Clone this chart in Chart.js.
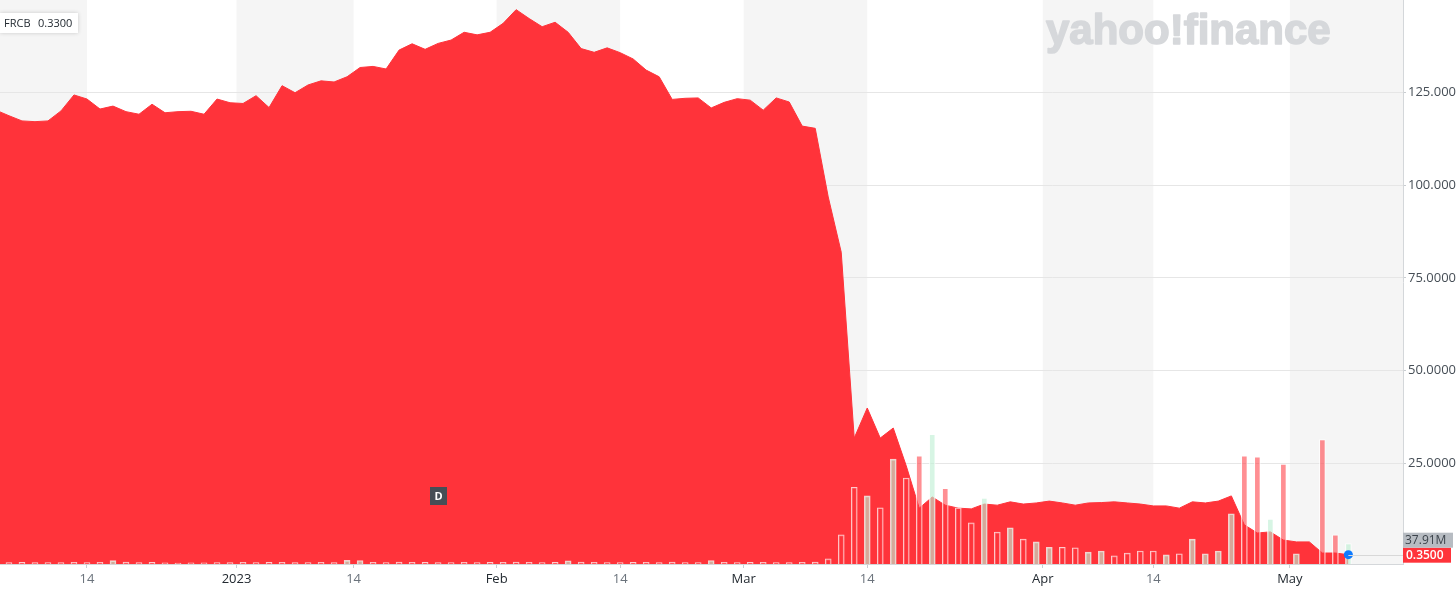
<!DOCTYPE html>
<html>
<head>
<meta charset="utf-8">
<script src="https://cdn.jsdelivr.net/npm/chart.js@4/dist/chart.umd.min.js"></script>
<style>
  html, body { margin: 0; padding: 0; background: #fff; }
  #wrap { width: 1456px; height: 590px; }
</style>
</head>
<body>
<div id="wrap"><canvas id="chart" width="1456" height="590"></canvas></div>
<script>
// trading days shown on the chart
const dates = [
  "2022-12-05","2022-12-06","2022-12-07","2022-12-08","2022-12-09","2022-12-12","2022-12-13","2022-12-14",
  "2022-12-15","2022-12-16","2022-12-19","2022-12-20","2022-12-21","2022-12-22","2022-12-23","2022-12-27",
  "2022-12-28","2022-12-29","2022-12-30",
  "2023-01-03","2023-01-04","2023-01-05","2023-01-06","2023-01-09","2023-01-10","2023-01-11","2023-01-12",
  "2023-01-13","2023-01-17","2023-01-18","2023-01-19","2023-01-20","2023-01-23","2023-01-24","2023-01-25",
  "2023-01-26","2023-01-27","2023-01-30","2023-01-31",
  "2023-02-01","2023-02-02","2023-02-03","2023-02-06","2023-02-07","2023-02-08","2023-02-09","2023-02-10",
  "2023-02-13","2023-02-14","2023-02-15","2023-02-16","2023-02-17","2023-02-21","2023-02-22","2023-02-23",
  "2023-02-24","2023-02-27","2023-02-28",
  "2023-03-01","2023-03-02","2023-03-03","2023-03-06","2023-03-07","2023-03-08","2023-03-09","2023-03-10",
  "2023-03-13","2023-03-14","2023-03-15","2023-03-16","2023-03-17","2023-03-20","2023-03-21","2023-03-22",
  "2023-03-23","2023-03-24","2023-03-27","2023-03-28","2023-03-29","2023-03-30","2023-03-31",
  "2023-04-03","2023-04-04","2023-04-05","2023-04-06","2023-04-10","2023-04-11","2023-04-12","2023-04-13",
  "2023-04-14","2023-04-17","2023-04-18","2023-04-19","2023-04-20","2023-04-21","2023-04-24","2023-04-25",
  "2023-04-26","2023-04-27","2023-04-28",
  "2023-05-01","2023-05-02","2023-05-03","2023-05-04","2023-05-05"
];

// close price
const prices = [
  120.2,118.7,117.3,117.1,117.3,120.0,124.3,123.2,120.5,121.3,119.8,119.1,121.8,119.5,119.8,119.9,
  119.1,123.2,122.2,
  122.0,124.1,120.9,126.8,124.9,127.0,128.1,127.8,129.2,131.7,132.0,131.3,136.4,138.1,136.6,138.2,
  139.1,141.2,140.5,141.2,
  143.6,147.3,144.9,142.7,143.9,141.2,136.8,135.8,137.0,135.7,134.0,131.0,129.2,123.1,123.4,123.5,
  120.8,122.3,123.3,
  122.9,120.2,123.5,122.4,115.9,115.3,96.8,81.9,31.8,39.9,31.8,34.5,24.3,12.9,15.9,13.7,
  12.9,12.7,14.0,13.7,14.6,14.0,14.3,
  14.8,14.3,13.7,14.3,14.4,14.6,14.3,14.0,13.5,13.5,12.9,14.6,14.3,14.8,16.2,8.4,
  6.2,6.5,4.3,
  3.8,3.8,0.8,0.8,0.35
];

// volume, millions
const volumes = [
  3.1,2.6,2.9,2.4,2.7,2.5,3.3,2.8,3.0,6.2,3.4,2.6,2.9,2.2,1.9,2.1,
  2.3,2.8,2.4,
  3.0,2.7,2.9,3.2,2.6,2.8,3.1,2.5,6.8,6.5,3.0,2.7,3.4,3.1,2.9,2.6,
  2.8,3.0,2.7,2.9,
  3.3,3.6,3.0,2.8,2.9,6.0,3.5,3.1,2.8,2.7,2.9,3.0,2.6,3.4,2.8,2.7,
  6.4,3.0,2.7,
  2.9,3.1,2.8,2.6,3.2,3.5,9.5,54,142,126,104,194,159,200,240,140,
  104,76,122,59,67,46,41,
  31,31,30,22,24,15,20,24,24,17,19,46,19,24,93,200,
  198,83,185,
  19,0,230,54,37.91
];

// 1 = up day (green volume bar), 0 = down day
const volUp = [
  0,0,0,0,0,0,0,0,0,1,0,0,0,0,0,0,
  0,0,0,
  0,0,0,0,0,0,0,0,1,1,0,0,0,0,0,0,
  0,0,0,0,
  0,0,0,0,0,1,0,0,0,0,0,0,0,0,0,0,
  1,0,0,
  0,0,0,0,0,0,0,0,0,1,0,1,0,0,1,0,
  0,0,1,0,1,0,1,
  1,0,0,1,1,0,0,0,0,1,0,1,1,1,1,0,
  0,1,0,
  1,0,0,0,1
];

const tickDates = ["2022-12-14","2023-01-01","2023-01-14","2023-02-01","2023-02-14",
                   "2023-03-01","2023-03-14","2023-04-01","2023-04-14","2023-05-01"];
const tickLabels = ["14","2023","14","Feb","14","Mar","14","Apr","14","May"];
const priceTicks = [25, 50, 75, 100, 125];

const ticker = "FRCB";
const headerPrice = 0.33;
const divDate = "2023-01-25";

const RED = "#ff333a";
const FONT = "'Open Sans', 'Liberation Sans', sans-serif";

// month starts sit between trading days, mid-month dates on their day
function datePos(d) {
  const k = dates.findIndex(x => x >= d);
  if (dates[k] === d && !d.endsWith("-01")) return k;
  return k - 0.5;
}
const tickPos = tickDates.map(datePos);

const last = prices.length - 1;
const pricePts = prices.map((p, i) => ({ x: i, y: p }));
const volPts = volumes.map((v, i) => ({ x: i, y: v }));

const bandsPlugin = {
  id: "bands",
  beforeDraw(chart) {
    const { ctx, chartArea: a, scales } = chart;
    const edges = [a.left, ...tickPos.map(v => scales.x.getPixelForValue(v)), a.right];
    ctx.save();
    ctx.fillStyle = "#f5f5f5";
    for (let k = 0; k < edges.length - 1; k += 2) {
      ctx.fillRect(edges[k], a.top, edges[k + 1] - edges[k], a.bottom - a.top);
    }
    // watermark
    ctx.fillStyle = "#d6d8db";
    ctx.strokeStyle = "#d6d8db";
    ctx.lineWidth = 1.6;
    ctx.lineJoin = "round";
    ctx.font = "bold 42px 'Liberation Sans', Arial, sans-serif";
    ctx.textBaseline = "alphabetic";
    ctx.fillText("yahoo!finance", 1046, 44, 291);
    ctx.strokeText("yahoo!finance", 1046, 44, 291);
    ctx.restore();
  }
};

const extrasPlugin = {
  id: "extras",
  afterDatasetsDraw(chart) {
    const { ctx, chartArea: a, scales } = chart;
    const px = scales.x.getPixelForValue(last);
    const py = scales.y.getPixelForValue(prices[last]);
    ctx.save();
    ctx.strokeStyle = "#d8d8d8";
    ctx.lineWidth = 1;
    ctx.beginPath();
    ctx.moveTo(px, Math.round(py) + 0.5);
    ctx.lineTo(a.right, Math.round(py) + 0.5);
    ctx.stroke();
    ctx.restore();
  },
  afterDraw(chart) {
    const { ctx, chartArea: a, scales } = chart;
    ctx.save();

    // header box
    ctx.shadowColor = "rgba(0,0,0,0.18)";
    ctx.shadowBlur = 4;
    ctx.fillStyle = "#fff";
    ctx.fillRect(0, 13, 78, 20);
    ctx.shadowBlur = 0;
    ctx.shadowColor = "transparent";
    ctx.fillStyle = "#232a31";
    ctx.font = "11px " + FONT;
    ctx.textBaseline = "alphabetic";
    ctx.fillText(ticker, 4, 27);
    ctx.fillText(headerPrice.toFixed(4), 38, 27);

    // dividend marker
    const dx = scales.x.getPixelForValue(dates.indexOf(divDate));
    const dy = a.bottom - 68;
    ctx.fillStyle = "#464e56";
    ctx.fillRect(Math.round(dx) - 8, dy - 9, 17, 18);
    ctx.fillStyle = "#fff";
    ctx.font = "bold 11px " + FONT;
    ctx.textAlign = "center";
    ctx.textBaseline = "middle";
    ctx.fillText("D", Math.round(dx) + 0.5, dy + 0.5);

    // last price / volume labels
    const py = scales.y.getPixelForValue(prices[last]);
    const bx = a.right;
    ctx.textAlign = "left";
    ctx.fillStyle = RED;
    ctx.fillRect(bx, py - 7, 48, 15);
    ctx.fillStyle = "#fff";
    ctx.font = "600 12px " + FONT;
    ctx.fillText(prices[last].toFixed(4), bx + 3, py + 0.5);
    ctx.fillStyle = "#b7bcc2";
    ctx.fillRect(bx, py - 22, 50, 15);
    ctx.fillStyle = "#3c434b";
    ctx.font = "12px " + FONT;
    ctx.fillText(volumes[last].toFixed(2) + "M", bx + 2, py - 14.5);
    ctx.restore();
  }
};

new Chart(document.getElementById("chart"), {
  data: {
    datasets: [
      {
        type: "bar",
        data: volPts,
        yAxisID: "yv",
        order: 0,
        barThickness: 6,
        backgroundColor: volUp.map(u => u ? "rgba(190,239,211,0.62)" : "rgba(255,51,58,0.55)"),
        borderColor: "rgba(255,255,255,0.75)",
        borderWidth: 1
      },
      {
        type: "line",
        data: [pricePts[last]],
        yAxisID: "y",
        order: -1,
        showLine: false,
        pointRadius: 4.5,
        pointBackgroundColor: "#0f7bff",
        pointBorderWidth: 0
      },
      {
        type: "line",
        data: pricePts,
        yAxisID: "y",
        order: 1,
        fill: "start",
        backgroundColor: RED,
        borderColor: RED,
        borderWidth: 1,
        pointRadius: 0,
        tension: 0
      }
    ]
  },
  options: {
    responsive: false,
    animation: false,
    layout: { padding: 0, autoPadding: false },
    plugins: { legend: { display: false }, tooltip: { enabled: false } },
    scales: {
      x: {
        type: "linear",
        offset: false,
        min: 0.31,
        max: 108.2,
        grid: { drawOnChartArea: false, offset: false, tickLength: 4, color: "#c9cdd1" },
        border: { color: "#d4d7da" },
        afterBuildTicks: s => { s.ticks = tickPos.map(v => ({ value: v })); },
        afterFit: s => { s.height = 26; s.paddingLeft = 0; s.paddingRight = 0; },
        ticks: {
          autoSkip: false,
          maxRotation: 0,
          padding: 3,
          font: { family: FONT, size: 13 },
          color: c => (c.tick && c.tick.label === "14") ? "#6b737c" : "#232a31",
          callback: (v, i) => tickLabels[i]
        }
      },
      y: {
        position: "right",
        min: -2.16,
        max: 149.9,
        grid: { color: "#e6e6e6", tickLength: 3, tickColor: "#c9cdd1" },
        border: { color: "#d4d7da" },
        afterBuildTicks: s => { s.ticks = priceTicks.map(v => ({ value: v })); },
        afterFit: s => { s.width = 53; s.paddingTop = 0; s.paddingBottom = 0; },
        ticks: {
          padding: 2,
          font: { family: FONT, size: 13 },
          color: "#464e56",
          callback: v => Number(v).toFixed(4)
        }
      },
      yv: { display: false, min: 0, max: 1043 }
    }
  },
  plugins: [bandsPlugin, extrasPlugin]
});
</script>
</body>
</html>
